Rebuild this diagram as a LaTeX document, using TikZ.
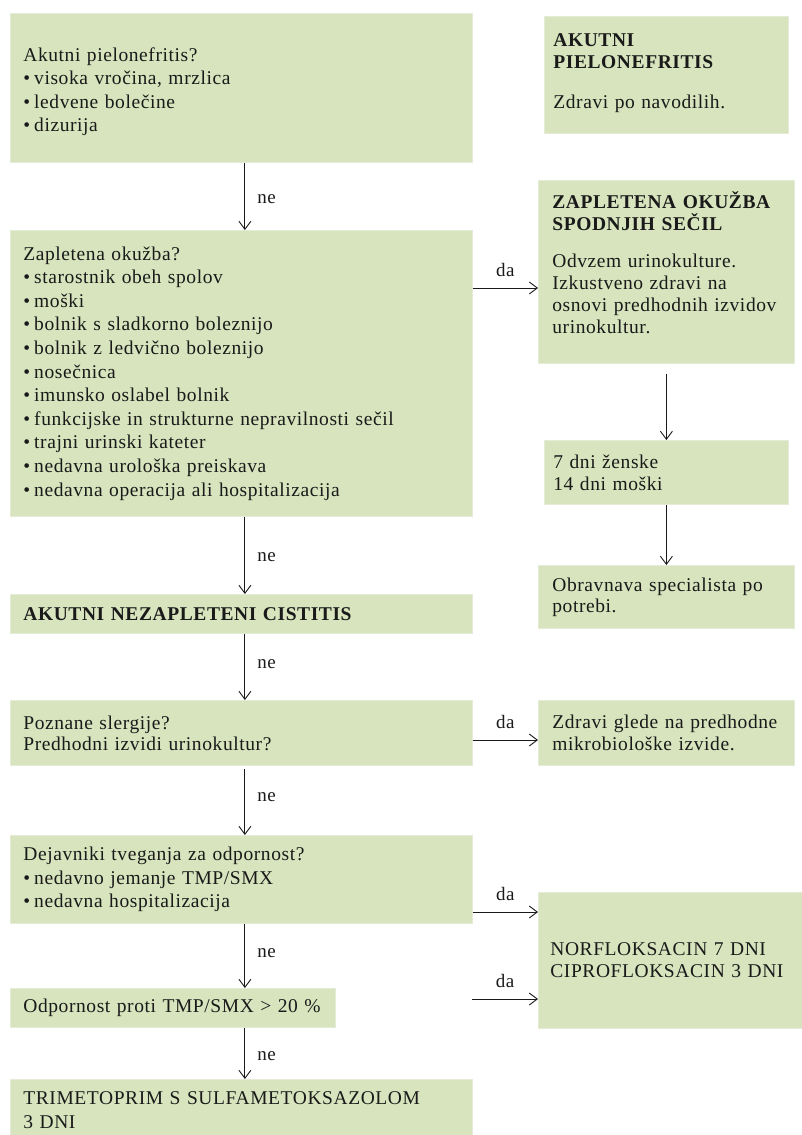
\documentclass[tikz,border=0pt]{standalone}
\usepackage{fontspec}
\setmainfont{Liberation Serif}[LetterSpace=3]
\usetikzlibrary{arrows.meta}
\definecolor{boxfill}{HTML}{D7E4BD}
\definecolor{boxedge}{HTML}{E4EBD6}
\definecolor{ink}{HTML}{1A1A1A}
\newcommand{\lnx}[1]{\mbox{#1}}
\newcommand{\bul}{•\hspace{4pt}}
\begin{document}
\begin{tikzpicture}[x=1pt,y=-1pt,
  box/.style={fill=boxfill, draw=boxedge, line width=0.8pt, anchor=north west,
    inner ysep=0pt, align=left, text=ink},
  fs/.style={font=\fontsize{19.5}{#1}\selectfont},
  lbl/.style={font=\fontsize{19}{23}\selectfont, text=ink, inner sep=0pt},
  arr/.style={draw=ink, line width=0.9pt, -{Straight Barb[length=8pt,width=12pt]}}
]
\useasboundingbox (0,0) rectangle (802,1135);
\clip (0,0) rectangle (802,1135);

% left column
\node[box, fs=23.2, text width=436pt, inner xsep=13pt, minimum height=149pt] (A) at (10,13)
  {\mbox{}\\[-2pt]\lnx{Akutni pielonefritis?}\\ \lnx{\bul visoka vročina, mrzlica}\\ \lnx{\bul ledvene bolečine}\\ \lnx{\bul dizurija}};
\node[box, fs=23.6, text width=436pt, inner xsep=13pt, minimum height=286pt] (C) at (10,230)
  {\lnx{Zapletena okužba?}\\
   \lnx{\bul starostnik obeh spolov}\\
   \lnx{\bul moški}\\
   \lnx{\bul bolnik s sladkorno boleznijo}\\
   \lnx{\bul bolnik z ledvično boleznijo}\\
   \lnx{\bul nosečnica}\\
   \lnx{\bul imunsko oslabel bolnik}\\
   \lnx{\bul funkcijske in strukturne nepravilnosti sečil}\\
   \lnx{\bul trajni urinski kateter}\\
   \lnx{\bul nedavna urološka preiskava}\\
   \lnx{\bul nedavna operacija ali hospitalizacija}};
\node[box, fs=23, text width=436pt, inner xsep=13pt, minimum height=39pt] (G) at (10,594)
  {\lnx{\textbf{AKUTNI NEZAPLETENI CISTITIS}}};
\node[box, fs=21, text width=436pt, inner xsep=13pt, minimum height=65pt] (H) at (10,700)
  {\lnx{Poznane slergije?}\\ \lnx{Predhodni izvidi urinokultur?}};
\node[box, fs=23.5, text width=436pt, inner xsep=13pt, minimum height=88pt] (J) at (10,835)
  {\lnx{Dejavniki tveganja za odpornost?}\\ \lnx{\bul nedavno jemanje TMP/SMX}\\ \lnx{\bul nedavna hospitalizacija}};
\node[box, fs=23, text width=299pt, inner xsep=13pt, minimum height=39pt] (L) at (10,988)
  {\lnx{Odpornost proti TMP/SMX > 20 \%}};
\node[box, fs=24, text width=436pt, inner xsep=13pt, minimum height=62pt] (M) at (10,1079)
  {\lnx{TRIMETOPRIM S SULFAMETOKSAZOLOM}\\ \lnx{3 DNI}};

% right column
\node[box, fs=22, text width=226pt, inner xsep=9pt, minimum height=117pt] (B) at (544,16)
  {\lnx{\textbf{AKUTNI}}\\ \lnx{\textbf{PIELONEFRITIS}}\\[18pt] \lnx{Zdravi po navodilih.}\\[-14pt]\mbox{}};
\node[box, fs=22, text width=228pt, inner xsep=14pt, minimum height=183pt] (D) at (538,180)
  {\lnx{\textbf{ZAPLETENA OKUŽBA}}\\ \lnx{\textbf{SPODNJIH SEČIL}}\\[15pt]
   \lnx{Odvzem urinokulture.}\\ \lnx{Izkustveno zdravi na}\\ \lnx{osnovi predhodnih izvidov}\\ \lnx{urinokultur.}\\[-4pt]\mbox{}};
\node[box, fs=22, text width=226pt, inner xsep=9pt, minimum height=64pt] (E) at (544,440)
  {\lnx{7 dni ženske}\\ \lnx{14 dni moški}};
\node[box, fs=21, text width=228pt, inner xsep=14pt, minimum height=63pt] (F) at (538,565)
  {\lnx{Obravnava specialista po}\\ \lnx{potrebi.}};
\node[box, fs=22, text width=228pt, inner xsep=14pt, minimum height=65pt] (I) at (538,700)
  {\lnx{Zdravi glede na predhodne}\\ \lnx{mikrobiološke izvide.}};
\node[box, fs=22, text width=246pt, inner xsep=12pt, minimum height=136pt] (K) at (538,892)
  {\lnx{NORFLOKSACIN 7 DNI}\\ \lnx{CIPROFLOKSACIN 3 DNI}};

% vertical connectors, left
\draw[arr] ([xshift=3.5pt]A.south) -- ([xshift=3.5pt]C.north) node[lbl, midway, anchor=west, xshift=12pt, yshift=-3pt] (n1) {ne};
\draw[arr] ([xshift=3.5pt]C.south) -- ([xshift=3.5pt]G.north) node[lbl, midway, anchor=west, xshift=12pt, yshift=-2pt] (n2) {ne};
\draw[arr] ([xshift=3.5pt]G.south) -- ([xshift=3.5pt]H.north) node[lbl, midway, anchor=west, xshift=12pt, yshift=3pt] (n3) {ne};
\draw[arr, shorten <=3pt] ([xshift=3.5pt]H.south) -- ([xshift=3.5pt]J.north) node[lbl, midway, anchor=west, xshift=12pt, yshift=3pt] (n4) {ne};
\draw[arr] ([xshift=3.5pt]J.south) -- ([xshift=3.5pt]L.north -| J.south) node[lbl, midway, anchor=west, xshift=12pt, yshift=3pt] (n5) {ne};
\draw[arr] ([xshift=3.5pt]L.south -| J.south) -- ([xshift=3.5pt]M.north) node[lbl, midway, anchor=west, xshift=12pt, yshift=-3pt] (n6) {ne};

% vertical connectors, right
\draw[arr, shorten <=10pt] (D.south) -- (E.north);
\draw[arr] (E.south) -- (F.north);

% horizontal connectors
\draw[arr] (C.east |- 0,288) -- (D.west |- 0,288) node[lbl, midway, above=11pt] (d1) {da};
\draw[arr] (H.east |- 0,740) -- (I.west |- 0,740) node[lbl, midway, above=11pt] (d2) {da};
\draw[arr] (J.east |- 0,912) -- (K.west |- 0,912) node[lbl, midway, above=11pt] (d3) {da};
\coordinate (lk) at (472,999);
\draw[arr] (lk) -- (K.west |- lk) node[lbl, midway, above=11pt] (d4) {da};
\end{tikzpicture}
\end{document}
